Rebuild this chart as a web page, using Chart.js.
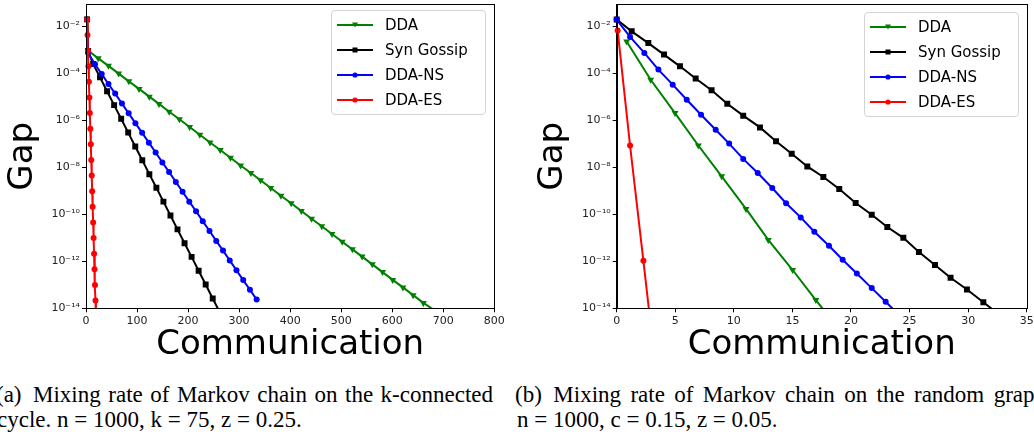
<!DOCTYPE html>
<html>
<head>
<meta charset="utf-8">
<script src="https://cdn.jsdelivr.net/npm/chart.js@4"></script>
<style>
  body { margin: 0; width: 1034px; height: 439px; overflow: hidden; background: #fff; position: relative; }
  canvas { position: absolute; top: 0; }
  .legend { position: absolute; box-sizing: border-box; border: 1px solid #d4d4d4; border-radius: 4px;
            background: rgba(255,255,255,0.85); font: 15px "DejaVu Sans"; color: #000; padding: 1px 0 3px 5px; }
  .legend .row { height: 25px; display: flex; align-items: center; }
  .legend .row span { margin-left: 12px; }
  .cap { position: absolute; font: 23px "Liberation Serif"; white-space: nowrap; line-height: 25px; color: #000; }
  .just { text-align: justify; text-align-last: justify; }
</style>
</head>
<body>
<canvas id="cycle" width="517" height="370" style="left:0"></canvas>
<canvas id="graph" width="517" height="370" style="left:517px"></canvas>
<div class="legend" id="legCycle" style="left:331px; top:10px; width:155px; height:105px"></div>
<div class="legend" id="legGraph" style="left:864px; top:12px; width:155px; height:105px"></div>
<div class="cap just" style="left:-4px; top:382px; width:497px">(a)&ensp;Mixing rate of Markov chain on the k-connected</div>
<div class="cap" style="left:-3px; top:407px">cycle. n = 1000, k = 75, z = 0.25.</div>
<div class="cap just" style="left:515px; top:382px; width:531px">(b)&ensp;Mixing rate of Markov chain on the random graph</div>
<div class="cap" style="left:517px; top:407px">n = 1000, c = 0.15, z = 0.05.</div>
<script>
// series order: DDA, Syn Gossip, DDA-NS, DDA-ES
const seriesNames = ["DDA", "Syn Gossip", "DDA-NS", "DDA-ES"];
const gapTicks = [1e-2, 1e-4, 1e-6, 1e-8, 1e-10, 1e-12, 1e-14];

// (a) k-connected cycle, x = communication, values = log10(gap)
const cycleDdaX = [2, 4, 24, 44, 64, 84, 104, 124, 143, 163, 183, 203, 223, 243, 263, 283, 303, 323, 342,
  362, 382, 402, 422, 442, 462, 482, 502, 522, 541, 561, 581, 601, 621, 641, 661, 684];
const cycleDdaGap = [-1.70, -3.03, -3.36, -3.68, -4.01, -4.34, -4.66, -4.99, -5.30, -5.63, -5.95, -6.28, -6.61,
  -6.94, -7.26, -7.59, -7.92, -8.24, -8.55, -8.88, -9.21, -9.53, -9.86, -10.19, -10.51, -10.84, -11.17, -11.49,
  -11.80, -12.13, -12.46, -12.79, -13.11, -13.44, -13.77, -14.10];
const cycleSynX = [2, 4, 14, 27.5, 41.3, 55.1, 68.9, 82.7, 96.5, 110.3, 124.1, 137.9, 151.7, 165.5, 179.3,
  193.1, 206.9, 220.7, 234.5, 248.3, 262.1];
const cycleSynGap = [-1.70, -3.05, -3.60, -4.17, -4.76, -5.35, -5.93, -6.52, -7.11, -7.70, -8.29, -8.87, -9.46,
  -10.05, -10.64, -11.23, -11.81, -12.40, -12.99, -13.58, -14.17];
const cycleNsX = [2, 4, 17.6, 30.8, 44.0, 57.2, 70.4, 83.6, 96.8, 110.0, 123.2, 136.4, 149.6, 162.8, 176.0,
  189.2, 202.4, 215.6, 228.8, 242.0, 255.2, 268.4, 281.6, 294.8, 308.0, 321.2, 334.4];
const cycleNsGap = [-1.70, -3.12, -3.61, -4.03, -4.45, -4.86, -5.28, -5.70, -6.12, -6.53, -6.95, -7.37, -7.79,
  -8.20, -8.62, -9.04, -9.46, -9.87, -10.29, -10.71, -11.13, -11.54, -11.96, -12.38, -12.80, -13.21, -13.63];
const cycleEsX = [2, 2.9, 3.8, 4.8, 5.7, 6.6, 7.5, 8.4, 9.4, 10.3, 11.2, 12.1, 13.0, 14.0, 14.9, 15.8, 16.7,
  17.6, 18.6, 19.5];
const cycleEsGap = [-1.70, -2.37, -3.03, -3.70, -4.36, -5.03, -5.69, -6.36, -7.02, -7.69, -8.35, -9.02, -9.68,
  -10.35, -11.01, -11.68, -12.34, -13.01, -13.67, -14.34];

// (b) random graph
const graphDdaX = [0.85, 2.9, 4.98, 6.97, 8.96, 11.04, 12.94, 15.02, 17.0, 19.0];
const graphDdaGap = [-2.64, -4.27, -5.69, -7.07, -8.38, -9.77, -11.09, -12.37, -13.65, -14.90];
const graphSynX = [0, 1.28, 2.7, 4.04, 5.4, 6.74, 8.1, 9.44, 10.8, 12.23, 13.6, 14.94, 16.27, 17.64, 19.0,
  20.4, 21.77, 23.1, 24.47, 25.8, 27.17, 28.5, 29.9, 31.3, 32.6];
const graphSynGap = [-1.71, -2.21, -2.71, -3.20, -3.70, -4.22, -4.72, -5.29, -5.80, -6.30, -6.89, -7.42, -7.96,
  -8.41, -8.92, -9.52, -10.02, -10.54, -11.00, -11.60, -12.16, -12.70, -13.20, -13.74, -14.25];
const graphNsX = [0, 1.14, 2.36, 3.56, 4.78, 5.98, 7.2, 8.45, 9.6, 10.8, 12.04, 13.28, 14.46, 15.71, 16.87,
  18.12, 19.29, 20.5, 21.77, 22.96, 24.2];
const graphNsGap = [-1.71, -2.45, -3.13, -3.84, -4.48, -5.12, -5.76, -6.40, -6.99, -7.64, -8.24, -8.88, -9.53,
  -10.13, -10.74, -11.34, -11.93, -12.52, -13.14, -13.72, -14.33];
const graphEsX = [0.08, 1.14, 2.28, 3.4];
const graphEsGap = [-2.17, -7.07, -11.98, -16.90];

const colors = ["#008000", "#000000", "#0000ff", "#ff0000"];
const markers = ["triangle", "rect", "circle", "circle"];
const markerSize = [4, 4.2, 3, 3];

const sup = { "-": "\u207b", "0": "\u2070", "1": "\u00b9", "2": "\u00b2", "3": "\u00b3", "4": "\u2074",
  "5": "\u2075", "6": "\u2076", "7": "\u2077", "8": "\u2078", "9": "\u2079" };
function powLabel(v) {
  const e = String(Math.round(Math.log10(v)));
  return "10" + e.split("").map(c => sup[c]).join("");
}

function toPoints(xs, gaps) {
  return xs.map((x, i) => ({ x: x, y: Math.pow(10, gaps[i]) }));
}

const frame = {
  id: "frame",
  afterDraw(chart) {
    const a = chart.chartArea, ctx = chart.ctx;
    ctx.save();
    ctx.strokeStyle = "#000";
    ctx.lineWidth = 1;
    const l = Math.round(a.left) + 0.5, t = Math.round(a.top) + 0.5;
    ctx.strokeRect(l, t, Math.round(a.right) - Math.round(a.left), Math.round(a.bottom) - Math.round(a.top));
    ctx.restore();
  }
};

function makeChart(id, xMax, xStep, yWidth, padRight, gapPad, xs, gaps) {
  const datasets = seriesNames.map((name, k) => ({
    label: name,
    data: toPoints(xs[k], gaps[k]),
    borderColor: colors[k],
    backgroundColor: colors[k],
    borderWidth: 2,
    pointStyle: markers[k],
    pointRotation: markers[k] === "triangle" ? 180 : 0,
    pointRadius: markerSize[k],
    pointBorderWidth: 0,
    tension: 0,
    order: 4 - k,
    clip: { left: 6, top: 0, right: 0, bottom: 0 }
  }));
  new Chart(document.getElementById(id), {
    type: "line",
    data: { datasets },
    plugins: [frame],
    options: {
      responsive: false,
      animation: false,
      events: [],
      layout: { padding: { left: 0, right: padRight, top: 3, bottom: 0 } },
      plugins: { legend: { display: false }, tooltip: { enabled: false } },
      scales: {
        x: {
          type: "linear", min: 0, max: xMax,
          ticks: { stepSize: xStep, autoSkip: false, maxRotation: 0, padding: 2,
                   color: "#222", font: { family: "DejaVu Sans", size: 11 } },
          grid: { drawOnChartArea: false, drawTicks: true, tickLength: 4, color: "#000" },
          border: { color: "#000" },
          title: { display: true, text: "Communication", color: "#000",
                   font: { family: "DejaVu Sans", size: 34 }, padding: { top: 0, bottom: 4 } },
          afterFit: s => { s.height = 61.7; s.paddingLeft = 0; s.paddingRight = 0; }
        },
        y: {
          type: "logarithmic", min: 1e-14, max: Math.pow(10, -1.055),
          afterBuildTicks: s => { s.ticks = gapTicks.map(v => ({ value: v })); },
          ticks: { autoSkip: false, padding: 2, color: "#222", font: { family: "DejaVu Sans", size: 11 },
                   callback: v => powLabel(v) },
          grid: { drawOnChartArea: false, drawTicks: true, tickLength: 4, color: "#000" },
          border: { color: "#000" },
          title: { display: true, text: "Gap", color: "#000",
                   font: { family: "DejaVu Sans", size: 34 }, padding: { top: gapPad, bottom: 0 } },
          afterFit: s => { s.width = yWidth; s.paddingTop = 0; s.paddingBottom = 0; }
        }
      }
    }
  });
}

function legendHtml() {
  return seriesNames.map((name, k) => {
    const c = colors[k];
    let m = "";
    if (markers[k] === "triangle") m = `<polygon points="15,3.5 21,3.5 18,8.5" fill="${c}"/>`;
    else if (markers[k] === "rect") m = `<rect x="15.5" y="3.5" width="5" height="5" fill="${c}"/>`;
    else m = `<circle cx="18" cy="6" r="2.6" fill="${c}"/>`;
    return `<div class="row"><svg width="36" height="12"><line x1="0" y1="6" x2="36" y2="6" stroke="${c}" stroke-width="2"/>${m}</svg><span>${name}</span></div>`;
  }).join("");
}

makeChart("cycle", 800, 100, 86, 22.7, 3,
  [cycleDdaX, cycleSynX, cycleNsX, cycleEsX], [cycleDdaGap, cycleSynGap, cycleNsGap, cycleEsGap]);
makeChart("graph", 35, 5, 99.7, 7.3, 16,
  [graphDdaX, graphSynX, graphNsX, graphEsX], [graphDdaGap, graphSynGap, graphNsGap, graphEsGap]);

document.getElementById("legCycle").innerHTML = legendHtml();
document.getElementById("legGraph").innerHTML = legendHtml();
</script>
</body>
</html>
